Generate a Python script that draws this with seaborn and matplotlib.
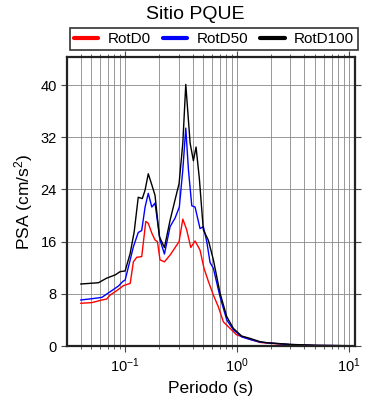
import numpy as np
import pandas as pd
import matplotlib
matplotlib.use("Agg")
import matplotlib.pyplot as plt
import seaborn as sns
from matplotlib.ticker import LogLocator, NullFormatter

# ------------------------------------------------------------
# Data (period in s, PSA in cm/s^2)
# ------------------------------------------------------------
t_d0 = [0.04, 0.0505, 0.0619, 0.0684, 0.0733, 0.0844, 0.0966, 0.111, 0.1185, 0.127,
        0.1407, 0.153, 0.161, 0.1732, 0.185, 0.1944, 0.2051, 0.2245, 0.2524, 0.3035,
        0.3277, 0.355, 0.386, 0.4217, 0.4671, 0.507, 0.5546, 0.6147, 0.681, 0.755,
        0.866, 0.994, 1.22, 1.6, 2.0, 3.0, 5.0, 10.0]
psa_d0 = [6.55, 6.65, 7.05, 7.2, 7.8, 8.5, 9.25, 9.6, 12.9, 13.6,
          13.7, 19.1, 18.8, 17.3, 16.25, 16.0, 13.2, 12.9, 13.95, 16.0,
          19.45, 17.8, 15.1, 16.1, 14.7, 11.9, 9.9, 7.8, 6.0, 3.7,
          2.7, 1.7, 1.2, 0.55, 0.4, 0.2, 0.08, 0.04]

t_d50 = [0.04, 0.0505, 0.0619, 0.0733, 0.0873, 0.0954, 0.1, 0.111, 0.1185, 0.131,
         0.1407, 0.1508, 0.161, 0.1732, 0.185, 0.2051, 0.2245, 0.2524, 0.2793, 0.305,
         0.3277, 0.3483, 0.368, 0.394, 0.4217, 0.4671, 0.5, 0.5364, 0.574, 0.6147,
         0.7048, 0.809, 0.927, 1.10, 1.306, 1.605, 2.0, 3.0, 5.0, 10.0]
psa_d50 = [7.05, 7.25, 7.45, 8.3, 9.2, 9.9, 10.1, 13.2, 15.2, 17.4,
           17.7, 21.3, 23.4, 21.3, 21.9, 16.25, 14.1, 18.3, 19.6, 21.3,
           27.0, 33.4, 27.0, 21.5, 21.3, 18.0, 18.3, 16.0, 12.8, 11.9,
           7.55, 4.0, 2.5, 1.4, 1.0, 0.6, 0.45, 0.22, 0.09, 0.04]

t_d100 = [0.04, 0.0578, 0.0684, 0.0816, 0.0903, 0.1, 0.111, 0.1205, 0.131, 0.1424,
          0.1508, 0.161, 0.1732, 0.185, 0.2024, 0.2245, 0.2524, 0.2793, 0.3035, 0.3277,
          0.3483, 0.3808, 0.4074, 0.4303, 0.4604, 0.5, 0.5546, 0.6147, 0.7048, 0.809,
          0.927, 1.10, 1.306, 1.605, 1.84, 2.97, 5.15, 10.0]
psa_d100 = [9.5, 9.7, 10.4, 10.9, 11.4, 11.5, 14.2, 17.5, 22.8, 22.6,
            23.9, 26.4, 24.7, 23.1, 16.75, 15.1, 19.3, 22.4, 24.9, 31.1,
            40.1, 31.1, 28.4, 30.5, 25.7, 17.8, 16.2, 13.2, 8.1, 4.5,
            2.7, 1.53, 1.17, 0.66, 0.5, 0.25, 0.1, 0.05]

labels = ["RotD0", "RotD50", "RotD100"]
colors = ["red", "blue", "black"]
y_ticks = [0, 8, 16, 24, 32, 40]

# ------------------------------------------------------------
# Plot
# ------------------------------------------------------------
sns.set_style("ticks")
plt.rcParams["font.family"] = ["Liberation Sans", "DejaVu Sans"]
plt.rcParams["mathtext.fontset"] = "custom"
plt.rcParams["mathtext.rm"] = "Liberation Sans"
plt.rcParams["mathtext.it"] = "Liberation Sans"
plt.rcParams["text.color"] = "black"
plt.rcParams["axes.labelcolor"] = "black"
plt.rcParams["xtick.labelcolor"] = "black"
plt.rcParams["ytick.labelcolor"] = "black"

fig = plt.figure(figsize=(3.9, 4.0), dpi=100)
ax = fig.add_axes([0.172, 0.135, 0.738, 0.7225])

series = [(t_d0, psa_d0), (t_d50, psa_d50), (t_d100, psa_d100)]
for (t, v), lab, col in zip(series, labels, colors):
    df = pd.DataFrame({"T": t, "PSA": v})
    sns.lineplot(data=df, x="T", y="PSA", color=col, lw=1.0, label=lab,
                 estimator=None, sort=True, ax=ax)

ax.set_xscale("log")
ax.set_xlim(0.0303, 11.3)
ax.set_ylim(0, 44.3)
ax.set_yticks(y_ticks)
ax.xaxis.set_major_locator(LogLocator(base=10))
ax.xaxis.set_minor_locator(LogLocator(base=10, subs=np.arange(2, 10)))
ax.xaxis.set_minor_formatter(NullFormatter())

ax.grid(True, which="both", axis="x", color="#888888", lw=0.6)
ax.grid(True, which="major", axis="y", color="#888888", lw=0.6)
ax.set_axisbelow(True)

ax.tick_params(which="both", direction="out", top=True, right=True,
               labelsize=10.5, color="#444444")
ax.tick_params(which="major", length=4, width=0.8)
ax.tick_params(which="minor", length=2.5, width=0.6)
for sp in ax.spines.values():
    sp.set_linewidth(1.6)
    sp.set_color("#222222")

ax.set_xlabel("Periodo (s)", fontsize=12.5)
ax.set_ylabel("PSA (cm/s$^2$)", fontsize=12.5)
fig.suptitle("Sitio PQUE", fontsize=14, y=0.985)

leg = ax.legend(loc="lower center", bbox_to_anchor=(0.51, 1.025), ncol=3,
                frameon=True, fancybox=False, edgecolor="black", fontsize=11,
                handlelength=1.6, handletextpad=0.6, columnspacing=0.8,
                borderpad=0.25, borderaxespad=0.0)
leg.get_frame().set_linewidth(1.2)
for h in leg.get_lines():
    h.set_linewidth(3)

fig.savefig("out.png", dpi=100)
